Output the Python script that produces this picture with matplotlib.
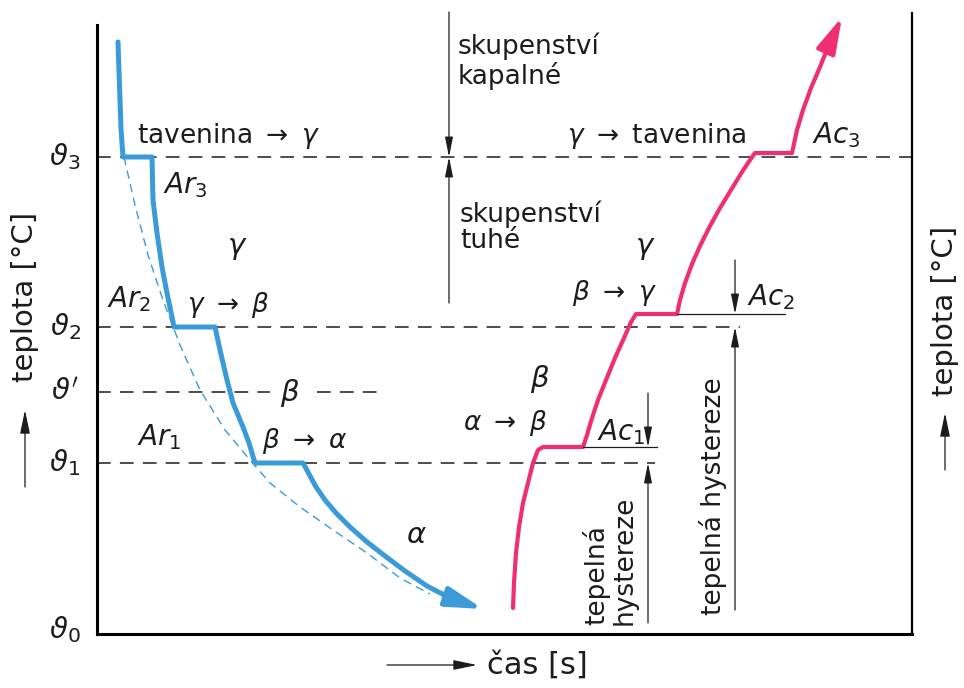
import matplotlib.pyplot as plt

plt.rcParams['font.family'] = ['DejaVu Sans']
plt.rcParams['mathtext.fontset'] = 'dejavusans'

# temperature levels on the ordinate (arbitrary units)
level_labels = [r'$\vartheta_0$', r'$\vartheta_1$', r"$\vartheta'$", r'$\vartheta_2$', r'$\vartheta_3$']
level_temps = [0, 171, 242, 307, 477]

# heating arrest levels Ac1, Ac2, Ac3
ac_temps = [187, 320, 481]

# cooling curve with arrests Ar3, Ar2, Ar1
cool_time = [21, 22, 23, 24, 26, 55, 56, 60, 65, 70, 75, 77, 118, 123, 130, 136,
             146, 152, 158, 206, 212, 219, 228, 239, 253, 270, 288, 308, 330, 353, 386]
cool_temp = [592, 563, 534, 505, 477, 477, 434, 401, 367, 341, 317, 307, 307, 284,
             254, 231, 207, 191, 171, 171, 160, 147, 134, 121, 107, 92, 78, 63, 48, 36, 25]

# cooling without transformations
free_time = [27, 38, 51, 66, 83, 103, 128, 153, 173, 203, 236, 270, 303, 333]
free_temp = [477, 429, 379, 334, 289, 244, 204, 174, 151, 127, 104, 81, 56, 40]

# heating curve with arrests Ac1, Ac2, Ac3
heat_time = [416, 417, 419, 422, 426, 431, 436, 441, 446, 486, 490, 495, 501, 509,
             518, 527, 534, 539, 580, 583, 588, 595, 603, 613, 623, 634, 645, 653,
             658, 695, 700, 706, 714, 723, 731, 745]
heat_temp = [26, 51, 81, 107, 131, 151, 171, 184, 187, 187, 199, 216, 234, 254,
             276, 296, 312, 320, 320, 334, 351, 370, 388, 408, 426, 444, 462, 474,
             481, 481, 504, 524, 546, 567, 587, 617]

blue = '#3a9bd8'
pink = '#ef2f70'
ink = '#1c1c1c'

fig = plt.figure(figsize=(9.64, 6.88), dpi=100)
ax = fig.add_axes([97 / 964, 54 / 688, 815 / 964, 624 / 688])
ax.set_xlim(0, 815)
ax.set_ylim(0, 624)
ax.set_xticks([])
ax.set_yticks([])
ax.spines['top'].set_visible(False)
ax.spines['left'].set_bounds(0, 609)
ax.spines['left'].set_linewidth(2.2)
ax.spines['right'].set_bounds(0, 621)
ax.spines['right'].set_linewidth(1.6)
ax.spines['bottom'].set_linewidth(2.2)

# dashed level lines
dash = dict(color=ink, lw=1.1, dashes=(9, 6))
ax.plot([0, 815], [level_temps[4]] * 2, **dash)
ax.plot([0, 643], [level_temps[3]] * 2, **dash)
ax.plot([0, 173], [level_temps[2]] * 2, **dash)
ax.plot([220, 280], [level_temps[2]] * 2, **dash)
ax.plot([0, 558], [level_temps[1]] * 2, **dash)

for lab, t in zip(level_labels, level_temps):
    y = t + 4 if t == 0 else t
    ax.text(-32, y, lab, fontsize=21, ha='center', va='center', color=ink)

# curves
ax.plot(free_time, free_temp, color=blue, lw=1.0, dashes=(6, 4))
ax.plot(cool_time[:-1], cool_temp[:-1], color=blue, lw=3.6,
        solid_joinstyle='round', solid_capstyle='round')
ax.annotate('', xy=(cool_time[-1], cool_temp[-1]), xytext=(cool_time[-2], cool_temp[-2]),
            arrowprops=dict(arrowstyle='-|>,head_length=1.1,head_width=0.3',
                            mutation_scale=20, color=blue, lw=3.6,
                            shrinkA=0, shrinkB=0))
ax.plot(heat_time[:-1], heat_temp[:-1], color=pink, lw=3.0,
        solid_joinstyle='round', solid_capstyle='round')
ax.annotate('', xy=(heat_time[-1], heat_temp[-1]), xytext=(heat_time[-2], heat_temp[-2]),
            arrowprops=dict(arrowstyle='-|>,head_length=1.1,head_width=0.3',
                            mutation_scale=20, color=pink, lw=3.0,
                            shrinkA=0, shrinkB=0))


def dim_arrow(x, y0, y1):
    ax.annotate('', xy=(x, y1), xytext=(x, y0),
                arrowprops=dict(arrowstyle='-|>,head_length=1.0,head_width=0.2',
                                mutation_scale=12, color=ink, lw=0.9,
                                shrinkA=0, shrinkB=0))


# liquid / solid boundary
dim_arrow(352, 622, level_temps[4])
dim_arrow(352, 331, level_temps[4])

# hysteresis dimensions
ax.plot([580, 688], [ac_temps[1]] * 2, color=ink, lw=0.9)
dim_arrow(638, 374, ac_temps[1])
dim_arrow(638, 24, level_temps[3])
ax.plot([486, 560], [ac_temps[0]] * 2, color=ink, lw=0.9)
dim_arrow(551, 241, ac_temps[0])
dim_arrow(551, 11, level_temps[1])

# labels, cooling side
fs = 19
ax.text(40, 491, r'tavenina $\rightarrow$ $\gamma$', fontsize=fs, color=ink)
ax.text(66, 441, r'$Ar_3$', fontsize=20, color=ink)
ax.text(140, 386, r'$\gamma$', fontsize=21, ha='center', va='center', color=ink)
ax.text(10, 327, r'$Ar_2$', fontsize=20, color=ink)
ax.text(90, 322, r'$\gamma$ $\rightarrow$ $\beta$', fontsize=fs, color=ink)
ax.text(193, 241, r'$\beta$', fontsize=21, ha='center', va='center', color=ink)
ax.text(40, 189, r'$Ar_1$', fontsize=20, color=ink)
ax.text(165, 186, r'$\beta$ $\rightarrow$ $\alpha$', fontsize=fs, color=ink)
ax.text(319, 99, r'$\alpha$', fontsize=21, ha='center', va='center', color=ink)

# labels, heating side
ax.text(470, 491, r'$\gamma$ $\rightarrow$ tavenina', fontsize=fs, color=ink)
ax.text(715, 491, r'$Ac_3$', fontsize=20, color=ink)
ax.text(548, 386, r'$\gamma$', fontsize=21, ha='center', va='center', color=ink)
ax.text(475, 334, r'$\beta$ $\rightarrow$ $\gamma$', fontsize=fs, color=ink)
ax.text(650, 329, r'$Ac_2$', fontsize=20, color=ink)
ax.text(443, 255, r'$\beta$', fontsize=21, ha='center', va='center', color=ink)
ax.text(366, 204, r'$\alpha$ $\rightarrow$ $\beta$', fontsize=fs, color=ink)
ax.text(500, 194, r'$Ac_1$', fontsize=20, color=ink)

ax.text(361, 601, 'skupenství\nkapalné', fontsize=fs, va='top', linespacing=1.05, color=ink)
ax.text(363, 434, 'skupenství\ntuhé', fontsize=fs, va='top', linespacing=1.05, color=ink)
ax.text(513, 9, 'tepelná\nhystereze', fontsize=fs, rotation=90, rotation_mode='anchor',
        ha='left', va='center', linespacing=1.05, color=ink)
ax.text(616, 19, 'tepelná hystereze', fontsize=fs, rotation=90, rotation_mode='anchor',
        ha='left', va='center', color=ink)

# axis titles with direction arrows
axis_arrow = dict(arrowstyle='-|>,head_length=1.2,head_width=0.25',
                  mutation_scale=12, color=ink, lw=0.9, shrinkA=0, shrinkB=0)
ax.annotate('', xy=(-72, 224), xytext=(-72, 147), arrowprops=axis_arrow,
            annotation_clip=False)
ax.text(-72, 337, 'teplota [°C]', fontsize=21, rotation=90, ha='center', va='center',
        color=ink, clip_on=False)
ax.annotate('', xy=(848, 221), xytext=(848, 164), arrowprops=axis_arrow,
            annotation_clip=False)
ax.text(848, 323, 'teplota [°C]', fontsize=21, rotation=90, ha='center', va='center',
        color=ink, clip_on=False)
ax.annotate('', xy=(380, -31), xytext=(290, -31), arrowprops=axis_arrow,
            annotation_clip=False)
ax.text(390, -31, 'čas [s]', fontsize=22, ha='left', va='center', color=ink, clip_on=False)

fig.savefig('out.png', dpi=100)
